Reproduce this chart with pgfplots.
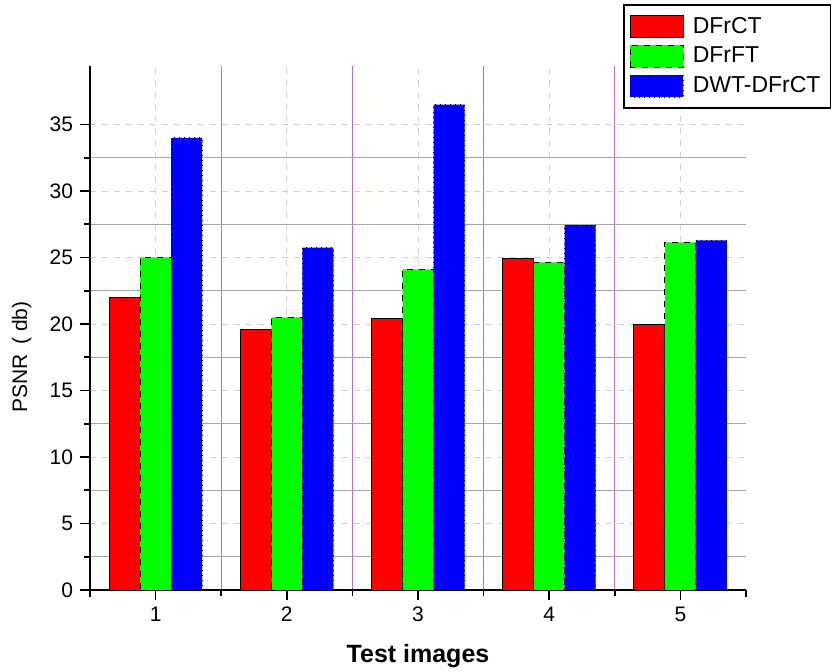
\documentclass[border=0pt]{standalone}
\usepackage{pgfplots}
\pgfplotsset{compat=1.18}
\usepackage{fontspec}
\setmainfont{Liberation Sans}
\definecolor{gridpurple}{RGB}{190,110,195}
\begin{document}
\begin{tikzpicture}
\useasboundingbox (-45pt,-40.5pt) rectangle (371.5pt,295pt);
\begin{axis}[
  at={(0pt,0pt)}, anchor=south west,
  width=328pt, height=262pt, scale only axis,
  xmin=0.5, xmax=5.5, ymin=0, ymax=39.4,
  ybar=0pt, bar width=15.5pt,
  xtick={1,2,3,4,5}, ytick={0,5,...,35},
  minor xtick={1.5,2.5,3.5,4.5}, minor y tick num=1,
  extra x ticks={0.5,5.5}, extra x tick labels={},
  extra x tick style={grid=none, major tick length=3.5pt},
  axis x line=bottom, axis y line=left,
  axis line style={-, line width=1pt, black},
  tick align=outside, major tick length=5pt, minor tick length=3pt,
  tick style={black, line width=0.8pt},
  xmajorgrids, ymajorgrids, xminorgrids, yminorgrids,
  major grid style={dashed, black!18, line width=0.5pt},
  minor x grid style={gridpurple, line width=0.6pt},
  minor y grid style={black!35, line width=0.6pt},
  tick label style={font=\fontsize{10.5}{12}\selectfont},
  /pgf/number format/assume math mode=true,
  ylabel={PSNR\hspace{0.45em}( db)},
  ylabel style={at={(axis description cs:-0.104,0.445)}, anchor=center, font=\fontsize{10.5}{12}\selectfont},
  xlabel={Test images},
  xlabel style={at={(axis description cs:0.5,-0.126)}, anchor=center, font=\bfseries\fontsize{12.5}{14}\selectfont},
  legend style={at={(axis description cs:0.8125,1.118)}, anchor=north west, draw=black, line width=0.8pt,
    font=\fontsize{11.5}{13}\selectfont, row sep=1.5pt, inner xsep=3pt, inner ysep=4pt},
  legend cell align=left,
  mylegend/.style={legend image code/.code={\draw[##1, line width=0.5pt] (0pt,-5.5pt) rectangle (26.5pt,5.5pt); \path (29pt,0pt);}},
]
\addplot[fill=red, draw=black, line width=0.5pt, solid, mylegend] coordinates {(1,22.0) (2,19.6) (3,20.4) (4,24.96) (5,19.94)};
\addplot[fill=green, draw=black, line width=0.5pt, dashed, mylegend] coordinates {(1,25.0) (2,20.5) (3,24.1) (4,24.63) (5,26.13)};
\addplot[fill=blue, draw=black, line width=0.5pt, dotted, mylegend] coordinates {(1,34.0) (2,25.75) (3,36.5) (4,27.44) (5,26.28)};
\legend{DFrCT, DFrFT, DWT-DFrCT}
\end{axis}
\end{tikzpicture}
\end{document}
